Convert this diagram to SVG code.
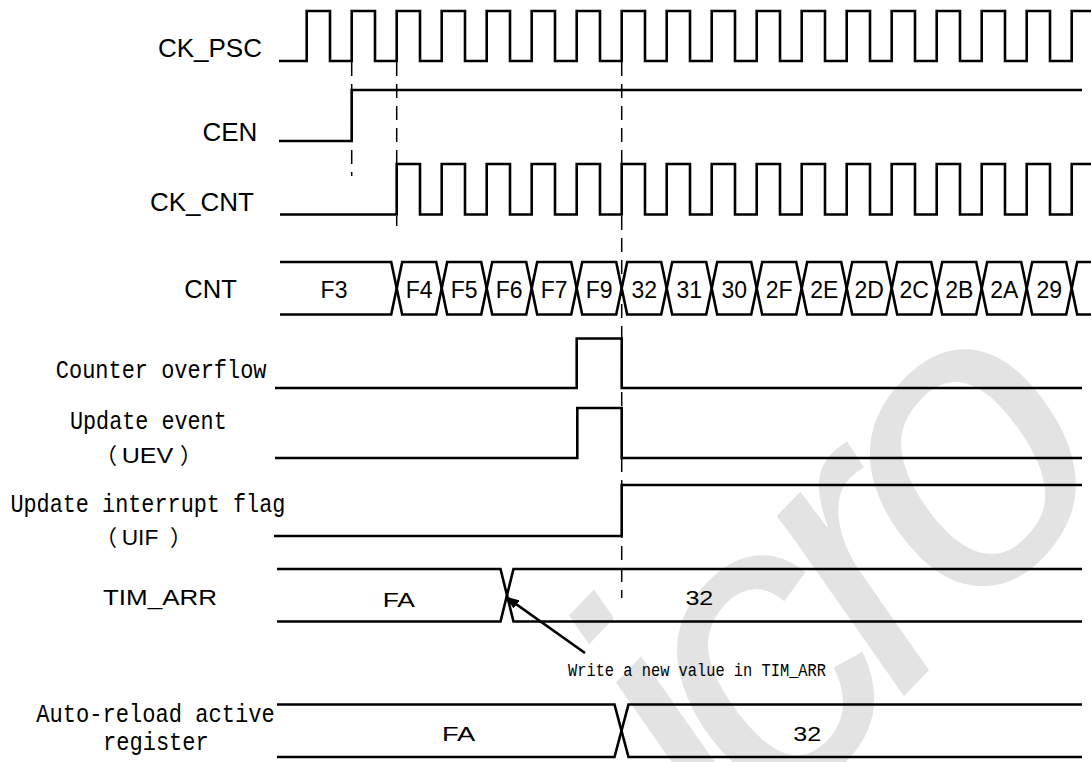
<svg xmlns="http://www.w3.org/2000/svg" width="1091" height="762" viewBox="0 0 1091 762">
<defs>
<style>
.w{fill:none;stroke:#000;stroke-width:2.6;stroke-linejoin:miter}
.d{fill:none;stroke:#000;stroke-width:1.5;stroke-dasharray:14 8}
.s{font-family:"Liberation Sans",Arial,sans-serif;fill:#000}
.m{font-family:"Liberation Mono","Courier New",monospace;fill:#000}
.c{font-family:"Noto Sans CJK SC",sans-serif}
.wm{font-family:"Liberation Sans",Arial,sans-serif;font-style:italic;fill:#e3e3e3}
</style>
<marker id="ah" viewBox="0 0 14 10" refX="13" refY="5" markerWidth="14" markerHeight="10" orient="auto" markerUnits="userSpaceOnUse">
<path d="M0,0 L14,5 L0,10 z" fill="#000"/>
</marker>
</defs>
<rect width="1091" height="762" fill="#fff"/>
<g id="watermark">
<text class="wm" font-size="410" letter-spacing="-32" transform="translate(738,868) rotate(-46)">icro</text>
</g>
<g id="labels">
<text class="s" font-size="26" x="262" y="57" text-anchor="end">CK_PSC</text>
<text class="s" font-size="26" x="257.3" y="140.7" text-anchor="end">CEN</text>
<text class="s" font-size="26" x="254" y="210.7" text-anchor="end">CK_CNT</text>
<text class="s" font-size="25.5" x="184.3" y="297.7">CNT</text>
<text class="m" font-size="26" x="55.8" y="378.3" textLength="210.7" lengthAdjust="spacingAndGlyphs">Counter overflow</text>
<text class="m" font-size="26" x="70" y="429.3" textLength="156.7" lengthAdjust="spacingAndGlyphs">Update event</text>
<text y="463" font-size="22"><tspan class="c" x="95">（</tspan><tspan class="s" x="121.7" textLength="51.6" lengthAdjust="spacingAndGlyphs">UEV</tspan><tspan class="c" x="180">）</tspan></text>
<text class="m" font-size="26" x="10.4" y="511.7" textLength="275" lengthAdjust="spacingAndGlyphs">Update interrupt flag</text>
<text y="545" font-size="22"><tspan class="c" x="95">（</tspan><tspan class="s" x="121.7" textLength="36.6" lengthAdjust="spacingAndGlyphs">UIF</tspan><tspan class="c" x="170">）</tspan></text>
<text class="s" font-size="22" x="103" y="605" textLength="114" lengthAdjust="spacingAndGlyphs">TIM_ARR</text>
<text class="m" font-size="26" x="36.2" y="721.7" textLength="238.7" lengthAdjust="spacingAndGlyphs">Auto-reload active</text>
<text class="m" font-size="26" x="103" y="750" textLength="105.8" lengthAdjust="spacingAndGlyphs">register</text>
</g>
<g id="CK_PSC">
<path class="w" d="M279,61 H306.7 V11 H330 V61 H351.7 V11 H375 V61 H396.7 V11 H420 V61 H441.7 V11 H465 V61 H486.7 V11 H510 V61 H531.7 V11 H555 V61 H576.7 V11 H600 V61 H621.7 V11 H645 V61 H666.7 V11 H690 V61 H711.7 V11 H735 V61 H756.7 V11 H780 V61 H801.7 V11 H825 V61 H846.7 V11 H870 V61 H891.7 V11 H915 V61 H936.7 V11 H960 V61 H981.7 V11 H1005 V61 H1026.7 V11 H1050 V61 H1071.7 V11 H1091"/>
</g>
<g id="CEN">
<path class="w" d="M279,141 H351.7 V90 H1082"/>
</g>
<g id="CK_CNT">
<path class="w" d="M280,214.5 H396.7 V164 H420 V214.5 H441.7 V164 H465 V214.5 H486.7 V164 H510 V214.5 H531.7 V164 H555 V214.5 H576.7 V164 H600 V214.5 H621.7 V164 H645 V214.5 H666.7 V164 H690 V214.5 H711.7 V164 H735 V214.5 H756.7 V164 H780 V214.5 H801.7 V164 H825 V214.5 H846.7 V164 H870 V214.5 H891.7 V164 H915 V214.5 H936.7 V164 H960 V214.5 H981.7 V164 H1005 V214.5 H1026.7 V164 H1050 V214.5 H1071.7 V164 H1091"/>
</g>
<g id="CNT">
<path class="w" d="M280,262 H391.2 L402.2,314.5 H436.2 L447.2,262 H481.2 L492.2,314.5 H526.2 L537.2,262 H571.2 L582.2,314.5 H616.2 L627.2,262 H661.2 L672.2,314.5 H706.2 L717.2,262 H751.2 L762.2,314.5 H796.2 L807.2,262 H841.2 L852.2,314.5 H886.2 L897.2,262 H931.2 L942.2,314.5 H976.2 L987.2,262 H1021.2 L1032.2,314.5 H1066.2 L1077.2,262 H1091"/>
<path class="w" d="M280,314.5 H391.2 L402.2,262 H436.2 L447.2,314.5 H481.2 L492.2,262 H526.2 L537.2,314.5 H571.2 L582.2,262 H616.2 L627.2,314.5 H661.2 L672.2,262 H706.2 L717.2,314.5 H751.2 L762.2,262 H796.2 L807.2,314.5 H841.2 L852.2,262 H886.2 L897.2,314.5 H931.2 L942.2,262 H976.2 L987.2,314.5 H1021.2 L1032.2,262 H1066.2 L1077.2,314.5 H1091"/>
<g class="s" font-size="23" text-anchor="middle">
<text x="334" y="298">F3</text>
<text x="419.2" y="298">F4</text>
<text x="464.2" y="298">F5</text>
<text x="509.2" y="298">F6</text>
<text x="554.2" y="298">F7</text>
<text x="599.2" y="298">F9</text>
<text x="644.2" y="298">32</text>
<text x="689.2" y="298">31</text>
<text x="734.2" y="298">30</text>
<text x="779.2" y="298">2F</text>
<text x="824.2" y="298">2E</text>
<text x="869.2" y="298">2D</text>
<text x="914.2" y="298">2C</text>
<text x="959.2" y="298">2B</text>
<text x="1004.2" y="298">2A</text>
<text x="1049.2" y="298">29</text>
</g>
</g>
<g id="Counter_overflow">
<path class="w" d="M275,388 H576.7 V338.5 H621.7 V388 H1082"/>
</g>
<g id="UEV">
<path class="w" d="M275,458 H577.3 V408 H621.7 V458 H1082"/>
</g>
<g id="UIF">
<path class="w" d="M274,536 H621.7 V485 H1082"/>
</g>
<g id="TIM_ARR">
<path class="w" d="M277,569 H500.5 L513.5,621.5 H1082"/>
<path class="w" d="M277,621.5 H500.5 L513.5,569 H1082"/>
<text class="s" font-size="21" x="382.7" y="606.5" textLength="32.3" lengthAdjust="spacingAndGlyphs">FA</text>
<text class="s" font-size="21" x="685.4" y="605" textLength="27.9" lengthAdjust="spacingAndGlyphs">32</text>
</g>
<g id="Auto_reload">
<path class="w" d="M277,704.5 H614.5 L628.5,757 H1082"/>
<path class="w" d="M277,757 H614.5 L628.5,704.5 H1082"/>
<text class="s" font-size="21" x="441.9" y="741" textLength="33.4" lengthAdjust="spacingAndGlyphs">FA</text>
<text class="s" font-size="21" x="793.3" y="741" textLength="27.9" lengthAdjust="spacingAndGlyphs">32</text>
</g>
<g id="connectors">
<line class="d" x1="351.7" y1="62" x2="351.7" y2="176"/>
<line class="d" x1="396.7" y1="62" x2="396.7" y2="226"/>
<line class="d" x1="621.7" y1="62" x2="621.7" y2="598"/>
<line x1="585" y1="653" x2="506" y2="597" stroke="#000" stroke-width="2.6" marker-end="url(#ah)"/>
<text class="m" font-size="18" x="568" y="676" textLength="258" lengthAdjust="spacingAndGlyphs">Write a new value in TIM_ARR</text>
</g>
</svg>
